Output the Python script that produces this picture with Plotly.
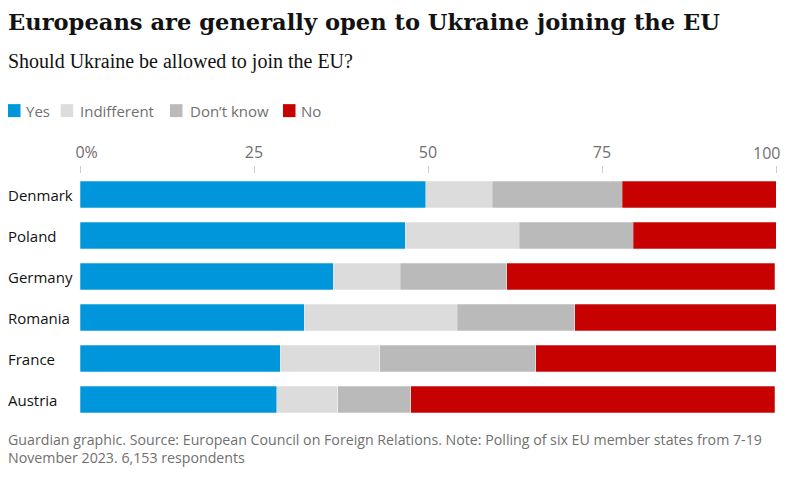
import plotly.graph_objects as go

countries = ["Denmark", "Poland", "Germany", "Romania", "France", "Austria"]
yes = [49.7, 46.7, 36.4, 32.2, 28.8, 28.3]
indifferent = [9.5, 16.4, 9.6, 22.0, 14.3, 8.7]
dont_know = [18.7, 16.4, 15.3, 16.9, 22.4, 10.5]
no = [22.1, 20.5, 38.5, 28.9, 34.5, 52.3]

series_names = ["Yes", "Indifferent", "Don\u2019t know", "No"]
series_values = [yes, indifferent, dont_know, no]
series_colors = ["#0096db", "#dcdcdc", "#bababa", "#c70000"]

tick_vals = [0, 25, 50, 75, 100]
tick_labels = ["0%", "25", "50", "75", "100"]

# ---- layout geometry (figure pixels; page has an 8px body margin) ----
W, H = 779, 466
L, R, T, B = 72, 11, 166, 53.5
pw, ph = W - L - R, H - T - B


def px(x):
    return (x - L) / pw


def py(y):
    return (H - B - y) / ph


sans = "Open Sans, Lato, sans-serif"
serif = "Liberation Serif, DejaVu Serif, serif"
title_font = "DejaVu Serif, Liberation Serif, serif"
clear = "<span style='color:rgba(0,0,0,0)'>{}</span>"

# first label: keep the "0" centred on its tick; last label is drawn
# right-aligned as an annotation so it stays inside the figure
tick_text = list(tick_labels)
tick_text[0] = clear.format("%") + tick_labels[0]
tick_text[-1] = ""

fig = go.Figure()
for name, vals, color in zip(series_names, series_values, series_colors):
    fig.add_trace(go.Bar(
        y=countries, x=vals, name=name, orientation="h",
        marker=dict(color=color, line=dict(width=0.6, color="rgba(255,255,255,0.45)")),
        showlegend=False,
        hovertemplate="%{y}: %{x}%<extra>" + name + "</extra>",
    ))

annotations = [
    dict(text="Should Ukraine be allowed to join the EU?", x=px(-2), y=py(53.5),
         xref="paper", yref="paper", xanchor="left", yanchor="middle", showarrow=False,
         font=dict(family=serif, size=20, color="#121212")),
    dict(text="Guardian graphic. Source: European Council on Foreign Relations. Note: Polling of six EU member states from 7-19<br>November 2023. 6,153 respondents",
         x=px(-2), y=py(441.5), xref="paper", yref="paper", xanchor="left", yanchor="middle",
         align="left", showarrow=False, font=dict(family=sans, size=14.2, color="#707070")),
    dict(text=tick_labels[-1], x=px(774), y=py(145), xref="paper", yref="paper",
         xanchor="right", yanchor="middle", showarrow=False,
         font=dict(family=sans, size=16, color="#707070")),
]
for c in countries:
    annotations.append(dict(text=c, x=px(-2), y=c, xref="paper", yref="y", xanchor="left",
                            yanchor="middle", showarrow=False,
                            font=dict(family=sans, size=15, color="#121212")))

# custom legend (swatch + label), positions in figure pixels
legend_x = [0, 52.7, 162, 275]
legend_text_x = [18, 72, 182, 293]
shapes = []
for name, color, sx, tx in zip(series_names, series_colors, legend_x, legend_text_x):
    shapes.append(dict(type="rect", xref="paper", yref="paper",
                       x0=px(sx), x1=px(sx + 12.5), y0=py(96), y1=py(109),
                       fillcolor=color, line=dict(width=0)))
    annotations.append(dict(text=name, x=px(tx - 2), y=py(102.5), xref="paper", yref="paper",
                            xanchor="left", yanchor="middle", showarrow=False,
                            font=dict(family=sans, size=15, color="#707070")))

fig.update_layout(
    width=W, height=H,
    barmode="stack", bargap=0.36,
    margin=dict(l=L, r=R, t=T, b=B, autoexpand=False),
    paper_bgcolor="white", plot_bgcolor="white",
    title=dict(text="<b>Europeans are generally open to Ukraine joining the EU</b>",
               x=0, xref="container", xanchor="left",
               y=1 - 14.4 / H, yref="container", yanchor="middle",
               font=dict(family=title_font, size=22.6, color="#121212")),
    xaxis=dict(range=[0, 100], side="top", tickvals=tick_vals, ticktext=tick_text,
               showgrid=False, zeroline=False, showline=False,
               ticks="outside", ticklen=7, tickcolor="#cccccc", tickwidth=1,
               ticklabelstandoff=2, ticklabeloverflow="allow",
               tickfont=dict(family=sans, size=16, color="#707070"), fixedrange=True),
    yaxis=dict(autorange="reversed", showticklabels=False, showgrid=False,
               zeroline=False, showline=False, fixedrange=True),
    annotations=annotations,
    shapes=shapes,
    showlegend=False,
)

fig.write_html("out.html")
